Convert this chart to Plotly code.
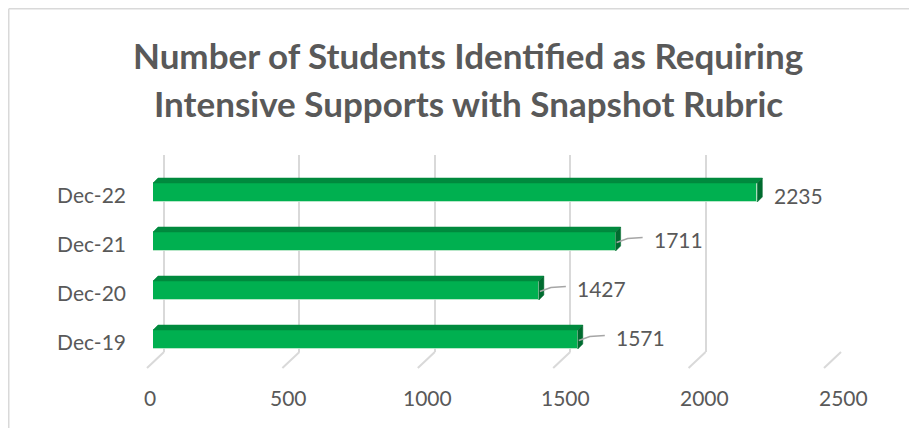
import plotly.graph_objects as go

categories = ["Dec-19", "Dec-20", "Dec-21", "Dec-22"]
values = [1571, 1427, 1711, 2235]
x_ticks = [0, 500, 1000, 1500, 2000, 2500]
title_lines = ["Number of Students Identified as Requiring",
               "Intensive Supports with Snapshot Rubric"]

# the page body adds an 8px margin; layout below is given in window pixels
OFF = 8
WIN_W, WIN_H = 917, 428
W, H = WIN_W - OFF, WIN_H - OFF
PL, PR, PT, PB = 153, 829, 155, 352     # plot area in window pixels
ML, MR, MT, MB = PL - OFF, WIN_W - PR, PT - OFF, WIN_H - PB
PW = PR - PL          # 676
PH = PB - PT          # 197
X_RANGE = [0, 2500]
Y_RANGE = [-0.255, 3.765]

ux = (X_RANGE[1] - X_RANGE[0]) / PW   # data units per pixel (x)
uy = (Y_RANGE[1] - Y_RANGE[0]) / PH   # data units per pixel (y)

FRONT = "#00b050"
TOP = "#008a3e"
SIDE = "#006b2f"
GRID = "#d9d9d9"
TXT = "#595959"
FONT = "Lato"


def px_x(p):   # window pixel -> paper x
    return (p - PL) / PW


def px_y(p):   # window pixel -> paper y
    return (PB - p) / PH


half = 9.5 * uy     # half height of front face
ddx = 5 * ux        # depth offset x
ddy = 5 * uy        # depth offset y

fig = go.Figure()

ypos = list(range(len(categories)))

# front faces
fig.add_trace(go.Bar(
    y=ypos, x=values, orientation="h", width=2 * half,
    marker=dict(color=FRONT, line=dict(color="rgba(200,235,210,0.8)", width=1)),
    hoverinfo="skip", showlegend=False, xaxis="x", yaxis="y"))

# top and side faces
for i, v in zip(ypos, values):
    t = i + half
    b = i - half
    fig.add_trace(go.Scatter(
        x=[0, v, v + ddx, ddx, 0], y=[t, t, t + ddy, t + ddy, t],
        fill="toself", fillcolor=TOP, mode="lines", line=dict(width=0.5, color=TOP),
        hoverinfo="skip", showlegend=False, xaxis="x", yaxis="y"))
    fig.add_trace(go.Scatter(
        x=[v, v + ddx, v + ddx, v, v], y=[t, t + ddy, b + ddy, b, t],
        fill="toself", fillcolor=SIDE, mode="lines", line=dict(width=0.5, color=SIDE),
        hoverinfo="skip", showlegend=False, xaxis="x", yaxis="y"))

# data labels (with leader lines except the longest bar)
vmax = max(values)
for i, v in zip(ypos, values):
    if v == vmax:
        fig.add_annotation(x=v + 15 * ux, y=i - 0.07, text=str(v), showarrow=False,
                           xanchor="left", yanchor="middle", xref="x", yref="y",
                           font=dict(family=FONT, size=21, color=TXT))
    else:
        gap = 36 * ux
        fig.add_trace(go.Scatter(
            x=[v + 1 * ux, v + 12 * ux, v + gap - 9 * ux],
            y=[i - 0.02, i + 0.06, i + 0.08],
            mode="lines", line=dict(color="#a6a6a6", width=1.5),
            hoverinfo="skip", showlegend=False, xaxis="x", yaxis="y"))
        fig.add_annotation(x=v + gap, y=i + 0.04, text=str(v), showarrow=False,
                           xanchor="left", yanchor="middle", xref="x", yref="y",
                           font=dict(family=FONT, size=21, color=TXT))

# back-wall grid axis (x2): range derived from pixel geometry
g0, g1 = 164, 841        # window pixels of 0 and 2500 on back wall
span2 = 2500 * PW / (g1 - g0)
r0_2 = -(g0 - PL) * span2 / PW
fig.add_trace(go.Scatter(x=[0], y=[0], mode="markers", marker=dict(opacity=0),
                         hoverinfo="skip", showlegend=False, xaxis="x2", yaxis="y"))

# x tick labels (front floor edge, perspective-shifted)
l0, l1 = 150, 843
for tv in x_ticks:
    p = l0 + tv * (l1 - l0) / 2500
    fig.add_annotation(x=px_x(p), y=px_y(397), xref="paper", yref="paper",
                       text=str(tv), showarrow=False, xanchor="center", yanchor="middle",
                       font=dict(family=FONT, size=21, color=TXT))

# floor "feet" of the gridlines (perspective)
shapes = []
for tv in x_ticks:
    p = g0 + tv * (g1 - g0) / 2500
    shapes.append(dict(type="line", xref="paper", yref="paper",
                       x0=px_x(p), y0=px_y(352), x1=px_x(p - 17), y1=px_y(368),
                       line=dict(color=GRID, width=2)))
# chart border (top and left edges, at the figure's edge)
edge_x = px_x(OFF + 0.75)
edge_y = px_y(OFF + 0.75)
shapes.append(dict(type="line", xref="paper", yref="paper", x0=edge_x, y0=edge_y,
                   x1=px_x(WIN_W + 5), y1=edge_y, line=dict(color=GRID, width=1.5)))
shapes.append(dict(type="line", xref="paper", yref="paper", x0=edge_x, y0=edge_y,
                   x1=edge_x, y1=px_y(WIN_H + 5), line=dict(color=GRID, width=1.5)))

for line, yc in zip(title_lines, [55, 103]):
    fig.add_annotation(text=line, x=px_x(468), y=px_y(yc),
                       xref="paper", yref="paper", showarrow=False,
                       xanchor="center", yanchor="middle",
                       font=dict(family=FONT, size=35, color=TXT, weight="bold"))

fig.update_layout(
    width=W, height=H,
    margin=dict(l=ML, r=MR, t=MT, b=MB, pad=0, autoexpand=False),
    paper_bgcolor="white", plot_bgcolor="rgba(0,0,0,0)",
    shapes=shapes,
    bargap=0,
    xaxis=dict(range=X_RANGE, showgrid=False, zeroline=False, showticklabels=False,
               showline=False, fixedrange=True, automargin=False),
    xaxis2=dict(range=[r0_2, r0_2 + span2], overlaying="x", showgrid=True, gridcolor=GRID,
                gridwidth=2, tickvals=x_ticks, showticklabels=False, zeroline=False,
                showline=False, layer="below traces", automargin=False),
    yaxis=dict(range=Y_RANGE, showgrid=False, zeroline=False, showline=False,
               tickvals=[i - 0.07 for i in ypos], ticktext=categories,
               ticklabelstandoff=26, automargin=False,
               tickfont=dict(family=FONT, size=21, color=TXT)),
)

fig.write_html("out.html")
